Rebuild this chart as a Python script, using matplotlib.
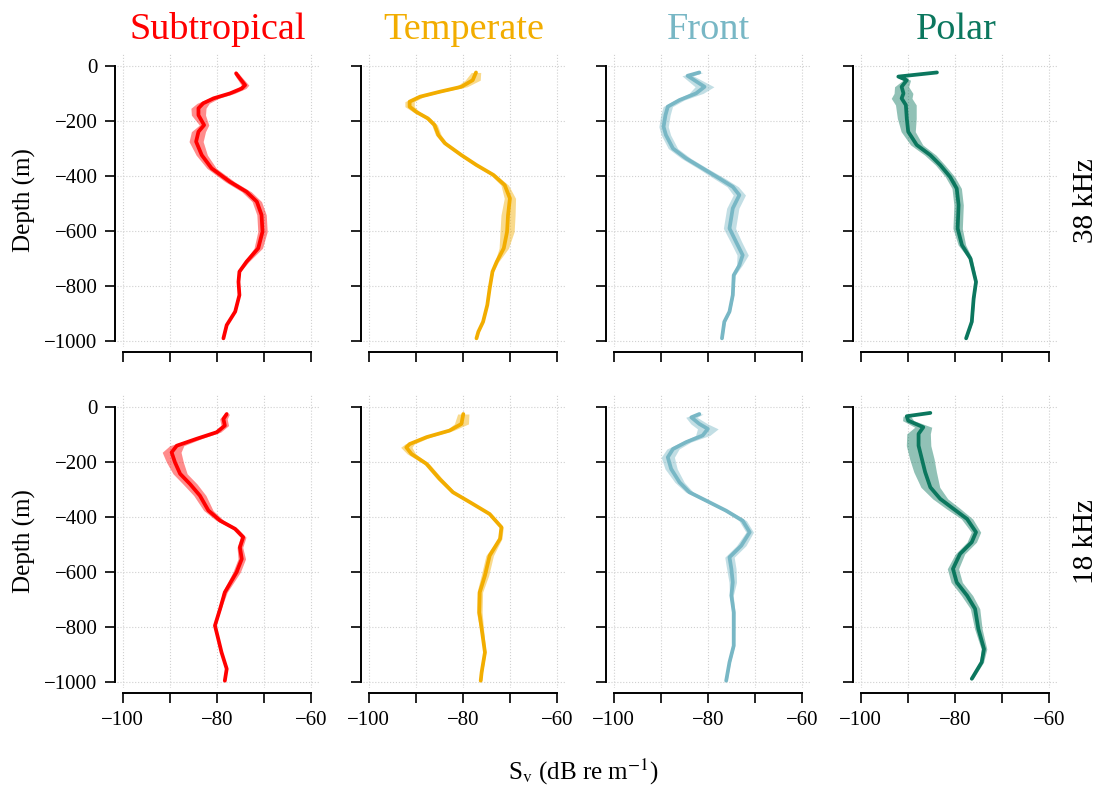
import matplotlib
matplotlib.use("Agg")
import matplotlib.pyplot as plt

plt.rcParams['font.family'] = ['Liberation Serif', 'DejaVu Serif']
plt.rcParams['mathtext.fontset'] = 'stix'

regions = ['Subtropical', 'Temperate', 'Front', 'Polar']
colors = ['#FF0000', '#F2AD00', '#78B7C5', '#0B775E']
freqs = ['38 kHz', '18 kHz']
x_ticks = [-100, -90, -80, -70, -60]
x_ticklabels = ['\u2212100', '', '\u221280', '', '\u221260']
y_ticks = [0, -200, -400, -600, -800, -1000]
y_ticklabels = ['0', '\u2212200', '\u2212400', '\u2212600', '\u2212800', '\u22121000']

# ---- 38 kHz ----
sub38_depth = [-28, -40, -71, -83, -101, -119, -137, -155, -180, -216, -240, -276, -325, -373, -422, -458, -494, -542, -603, -663, -712, -748, -785, -833, -893, -942, -990]
sub38_sv = [-75.9, -75.4, -74.0, -74.7, -77.2, -80.7, -82.9, -83.9, -83.9, -82.7, -83.9, -84.4, -83.2, -81.1, -77.2, -73.7, -71.5, -70.5, -70.3, -71.2, -73.7, -75.2, -75.4, -75.2, -76.1, -77.9, -78.6]
sub38_sd = [0.5, 0.6, 0.8, 0.9, 1.0, 1.1, 1.3, 1.6, 1.5, 1.0, 1.5, 1.5, 1.2, 1.0, 1.0, 1.0, 1.0, 1.0, 1.0, 0.9, 0.5, 0.2, 0.1, 0.1, 0.1, 0.1, 0.1]

tmp38_depth = [-25, -53, -77, -95, -113, -131, -149, -168, -192, -216, -252, -282, -325, -361, -397, -434, -482, -543, -603, -663, -712, -748, -809, -869, -930, -966, -990]
tmp38_sv = [-77.2, -77.9, -80.3, -84.9, -89.1, -91.3, -91.3, -89.9, -87.4, -86.0, -85.2, -83.8, -80.3, -77.1, -73.5, -71.1, -70.0, -70.4, -70.6, -71.3, -72.8, -73.7, -74.3, -74.8, -75.7, -76.7, -77.1]
tmp38_sd = [1.0, 1.6, 1.2, 0.8, 0.8, 1.0, 1.0, 0.7, 0.6, 0.6, 0.6, 0.5, 0.5, 0.5, 0.6, 0.8, 1.2, 1.5, 1.5, 1.0, 0.4, 0.2, 0.1, 0.1, 0.1, 0.1, 0.1]

fr38_depth = [-25, -37, -77, -101, -125, -149, -180, -222, -252, -301, -337, -373, -410, -440, -470, -518, -591, -640, -688, -725, -761, -833, -893, -930, -990]
fr38_sv = [-81.8, -84.3, -80.7, -82.5, -86.0, -88.5, -89.0, -89.4, -88.9, -87.4, -84.6, -81.1, -77.5, -74.7, -73.3, -74.7, -75.4, -74.0, -72.6, -73.3, -74.5, -74.7, -75.4, -76.5, -77.0]
fr38_sd = [0.8, 1.2, 2.0, 1.5, 1.0, 1.0, 1.0, 1.0, 1.0, 1.0, 1.0, 1.0, 1.2, 1.2, 1.3, 1.3, 1.3, 1.2, 1.2, 0.6, 0.3, 0.2, 0.2, 0.2, 0.2]

pol38_depth = [-25, -40, -53, -77, -101, -119, -143, -192, -240, -288, -325, -361, -404, -446, -506, -591, -651, -700, -785, -845, -930, -990]
pol38_sv = [-83.8, -92.0, -90.2, -91.3, -90.9, -91.3, -90.4, -90.2, -89.9, -88.1, -85.2, -83.1, -81.0, -79.6, -79.2, -79.4, -78.5, -76.7, -75.5, -76.0, -76.4, -77.6]
pol38_sd = [0.3, 0.5, 0.8, 1.5, 2.0, 2.2, 2.2, 2.0, 1.5, 1.3, 1.2, 1.0, 1.0, 1.0, 1.0, 1.0, 0.8, 0.4, 0.2, 0.2, 0.2, 0.2]

# ---- 18 kHz ----
sub18_depth = [-27, -45, -69, -93, -117, -142, -166, -202, -244, -281, -323, -377, -414, -444, -474, -511, -553, -601, -674, -734, -795, -843, -892, -952, -995]
sub18_sv = [-77.9, -78.6, -78.3, -80.0, -84.3, -88.5, -89.6, -88.9, -87.8, -85.7, -83.6, -81.8, -79.3, -76.1, -74.4, -75.1, -74.7, -75.8, -78.3, -79.3, -80.4, -79.7, -79.0, -77.9, -78.3]
sub18_sd = [0.6, 0.8, 0.8, 0.8, 1.0, 1.5, 2.0, 1.8, 1.5, 1.5, 1.3, 1.0, 0.8, 0.6, 0.6, 0.6, 0.8, 0.8, 0.5, 0.2, 0.1, 0.1, 0.1, 0.1, 0.1]

tmp18_depth = [-27, -63, -87, -111, -136, -148, -172, -208, -263, -311, -347, -390, -438, -480, -541, -613, -674, -747, -807, -892, -964, -995]
tmp18_sv = [-79.9, -80.3, -82.8, -87.7, -91.3, -92.0, -90.9, -87.7, -84.9, -82.1, -78.5, -74.3, -71.8, -72.1, -74.3, -75.3, -76.4, -76.5, -76.0, -75.3, -76.0, -76.2]
tmp18_sd = [1.2, 1.5, 0.8, 0.8, 1.0, 1.2, 0.9, 0.6, 0.6, 0.5, 0.4, 0.4, 0.4, 0.4, 0.8, 0.8, 0.6, 0.6, 0.4, 0.2, 0.2, 0.2]

fr18_depth = [-27, -39, -63, -81, -105, -129, -154, -184, -226, -275, -311, -341, -378, -414, -456, -505, -547, -589, -638, -686, -747, -868, -928, -995]
fr18_sv = [-81.8, -83.5, -81.8, -80.0, -81.1, -84.6, -87.4, -88.5, -87.8, -86.0, -83.9, -80.4, -76.1, -72.6, -71.1, -72.9, -75.4, -75.0, -74.7, -75.0, -74.5, -74.5, -75.4, -76.1]
fr18_sd = [0.8, 1.2, 1.8, 2.2, 1.5, 1.0, 1.3, 1.4, 1.3, 1.0, 0.8, 0.6, 0.6, 0.8, 0.8, 1.0, 1.0, 1.0, 0.8, 0.4, 0.3, 0.2, 0.2, 0.2]

pol18_depth = [-23, -35, -51, -75, -99, -142, -190, -238, -293, -335, -371, -408, -456, -492, -535, -589, -638, -686, -734, -807, -880, -928, -988]
pol18_sv = [-85.2, -90.2, -89.9, -86.7, -87.7, -87.7, -87.0, -86.3, -85.2, -83.1, -80.3, -77.4, -75.5, -76.4, -78.9, -80.4, -79.6, -77.4, -75.7, -75.0, -73.8, -74.3, -76.4]
pol18_sd = [0.3, 0.8, 1.2, 1.8, 2.5, 2.6, 2.6, 2.4, 2.0, 1.6, 1.5, 1.2, 1.0, 1.0, 1.0, 1.2, 1.2, 1.2, 1.0, 0.8, 0.6, 0.4, 0.3]

panels = [
    [(sub38_depth, sub38_sv, sub38_sd), (tmp38_depth, tmp38_sv, tmp38_sd),
     (fr38_depth, fr38_sv, fr38_sd), (pol38_depth, pol38_sv, pol38_sd)],
    [(sub18_depth, sub18_sv, sub18_sd), (tmp18_depth, tmp18_sv, tmp18_sd),
     (fr18_depth, fr18_sv, fr18_sd), (pol18_depth, pol18_sv, pol18_sd)],
]

W, H = 1113, 787
fig = plt.figure(figsize=(W / 100, H / 100), dpi=100)

col_left = [117, 363, 608, 855]
ax_w = 202
row_top = [54, 395]
ax_h = 292.6

for r in range(2):
    for c in range(4):
        left = col_left[c] / W
        bottom = 1 - (row_top[r] + ax_h) / H
        ax = fig.add_axes([left, bottom, ax_w / W, ax_h / H])
        d, sv, sd = panels[r][c]
        lo = [a - b for a, b in zip(sv, sd)]
        hi = [a + b for a, b in zip(sv, sd)]
        ax.fill_betweenx(d, lo, hi, color=colors[c], alpha=0.45, lw=0, zorder=2)
        ax.plot(sv, d, color=colors[c], lw=2.7, solid_joinstyle='round',
                solid_capstyle='round', zorder=3)
        ax.set_xlim(-101.2, -58.3)
        ax.set_ylim(-1020, 42)
        ax.set_xticks(x_ticks)
        ax.set_yticks(y_ticks)
        ax.grid(True, color='#d0d0d0', linestyle=':', lw=0.8, zorder=0)
        ax.set_axisbelow(True)
        for s in ['top', 'right']:
            ax.spines[s].set_visible(False)
        ax.spines['left'].set_position(('outward', 1.5))
        ax.spines['bottom'].set_position(('outward', 4))
        ax.spines['left'].set_bounds(-1000, 0)
        ax.spines['bottom'].set_bounds(-100, -60)
        for s in ['left', 'bottom']:
            ax.spines[s].set_linewidth(1.4)
            ax.spines[s].set_color('black')
        ax.tick_params(axis='both', direction='out', length=7.5, width=1.2,
                       labelsize=15, pad=5, color='black')
        if r == 1:
            ax.set_xticklabels(x_ticklabels)
        else:
            ax.set_xticklabels([])
        if c == 0:
            ax.set_yticklabels(y_ticklabels)
            ax.set_ylabel('Depth (m)', fontsize=18, labelpad=6)
        else:
            ax.set_yticklabels([])
        if r == 0:
            ax.set_title(regions[c], color=colors[c], fontsize=27.5, pad=11)
        if c == 3:
            ax.text(1.145, 0.5, freqs[r], transform=ax.transAxes, rotation=90,
                    fontsize=21, va='center', ha='center')

fig.text(583 / W, 1 - 772 / H, r'S$_\mathrm{v}$ (dB re m$^{-1}$)', fontsize=18,
         ha='center', va='center')

fig.savefig('out.png', dpi=100)
